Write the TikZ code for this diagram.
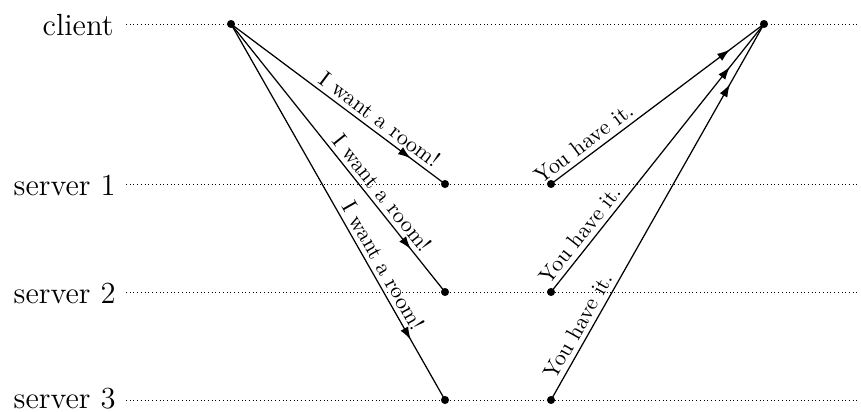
\documentclass[tikz,border=0pt]{standalone}
\usetikzlibrary{arrows.meta,decorations.markings}
\begin{document}
\begin{tikzpicture}[x=0.483pt,y=-0.483pt,
  lane/.style={line width=0.4pt, dash pattern=on 0.4pt off 1.4pt},
  dotnode/.style={circle, fill=black, inner sep=0pt, minimum size=3.9pt},
  msg/.style={line width=0.6pt, postaction={decorate},
    decoration={markings, mark=at position 0.84 with {\arrow{Latex[length=6.2pt,width=4.2pt]}}}},
  lanelabel/.style={font=\fontsize{14.8}{17}\selectfont, anchor=east, inner sep=0pt},
  msgtext/.style={sloped, above, font=\fontsize{10.7}{13}\selectfont, inner sep=2.2pt}]
\useasboundingbox (0,0) rectangle (861,412);
% lane labels
\node[lanelabel] (lc) at (114,25) {client};
\node[lanelabel] (l1) at (116,185) {server 1};
\node[lanelabel] (l2) at (116,293) {server 2};
\node[lanelabel] (l3) at (116,399) {server 3};
% lane lines
\coordinate (a0) at (126,24);  \coordinate (a1) at (859,24);
\coordinate (b0) at (126,184); \coordinate (b1) at (859,184);
\coordinate (d0) at (126,292); \coordinate (d1) at (859,292);
\coordinate (e0) at (126,400); \coordinate (e1) at (859,400);
\draw[lane] (a0) -- (a1);
\draw[lane] (b0) -- (b1);
\draw[lane] (d0) -- (d1);
\draw[lane] (e0) -- (e1);
% dots
\node[dotnode] (c)   at (231,24) {};
\node[dotnode] (cr)  at (764,24) {};
\node[dotnode] (s1l) at (445,184) {};
\node[dotnode] (s2l) at (445,292) {};
\node[dotnode] (s3l) at (445,400) {};
\node[dotnode] (s1r) at (551,184) {};
\node[dotnode] (s2r) at (551,292) {};
\node[dotnode] (s3r) at (551,400) {};
% requests
\draw[msg] (c.center) -- node[msgtext,pos=0.66] {I want a room!} (s1l.center);
\draw[msg] (c.center) -- node[msgtext,pos=0.66] {I want a room!} (s2l.center);
\draw[msg] (c.center) -- node[msgtext,pos=0.66] {I want a room!} (s3l.center);
% replies
\draw[msg] (s1r.center) -- node[msgtext,pos=0.19] {You have it.} (cr.center);
\draw[msg] (s2r.center) -- node[msgtext,pos=0.185] {You have it.} (cr.center);
\draw[msg] (s3r.center) -- node[msgtext,pos=0.18] {You have it.} (cr.center);
\end{tikzpicture}
\end{document}
